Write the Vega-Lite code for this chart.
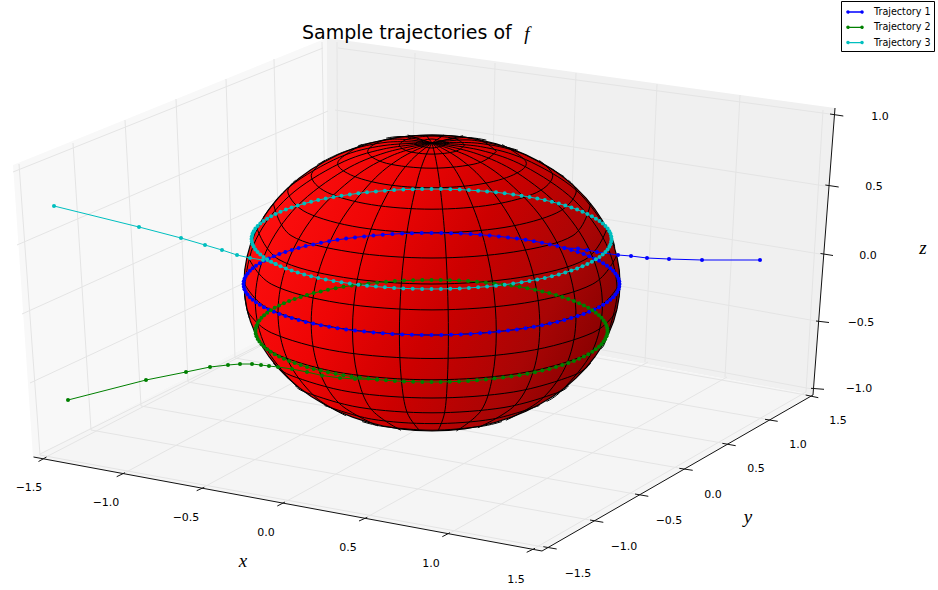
{"$schema":"https://vega.github.io/schema/vega-lite/v6.json","width":938,"height":590,"autosize":{"type":"fit","contains":"padding"},"padding":0,"background":"white","config":{"view":{"stroke":null}},
"datasets":{
"panes":[{"p":"left","x":13,"a":165,"b":165},{"p":"left","x":33,"a":157,"b":457},{"p":"left","x":327,"a":38,"b":305},{"p":"right","x":327,"a":38,"b":305},{"p":"right","x":813,"a":105,"b":395},{"p":"right","x":835,"a":108,"b":108},{"p":"floor","x":33,"a":457,"b":457},{"p":"floor","x":327,"a":305,"b":511.3},{"p":"floor","x":542,"a":345,"b":551},{"p":"floor","x":813,"a":395,"b":395}],
"gridlines":[{"x":19,"y":164,"x2":40,"y2":455},{"x":73,"y":143,"x2":91,"y2":430},{"x":125,"y":120,"x2":141,"y2":406},{"x":176,"y":99,"x2":188,"y2":382},{"x":226,"y":79,"x2":235,"y2":358},{"x":274,"y":59,"x2":281,"y2":334},{"x":322,"y":42,"x2":327,"y2":310},{"x":13,"y":172,"x2":323,"y2":48},{"x":17,"y":245,"x2":328,"y2":111},{"x":22,"y":314,"x2":330,"y2":175},{"x":30,"y":383,"x2":330,"y2":243},{"x":40,"y":454,"x2":330,"y2":310},{"x":337,"y":42,"x2":338,"y2":306},{"x":415,"y":53,"x2":410,"y2":320},{"x":495,"y":63,"x2":490,"y2":333},{"x":576,"y":73,"x2":567,"y2":347},{"x":657,"y":84,"x2":645,"y2":362},{"x":740,"y":95,"x2":725,"y2":377},{"x":823,"y":110,"x2":806,"y2":392},{"x":338,"y":48,"x2":830,"y2":114},{"x":335,"y":110,"x2":825,"y2":186},{"x":335,"y":175,"x2":820,"y2":254},{"x":335,"y":235,"x2":816,"y2":321},{"x":335,"y":300,"x2":812,"y2":389},{"x":46,"y":457,"x2":330,"y2":310},{"x":125,"y":472.7,"x2":410,"y2":320},{"x":204,"y":487,"x2":490,"y2":333},{"x":285,"y":502,"x2":567,"y2":347},{"x":367,"y":517,"x2":648,"y2":362},{"x":450,"y":533,"x2":727,"y2":377},{"x":535,"y":548,"x2":806,"y2":392},{"x":40,"y":455,"x2":543,"y2":547},{"x":91,"y":430,"x2":590,"y2":520},{"x":141,"y":406,"x2":635,"y2":494},{"x":188,"y":382,"x2":679,"y2":468},{"x":235,"y":358,"x2":722,"y2":443},{"x":281,"y":334,"x2":765,"y2":419},{"x":327,"y":310,"x2":806,"y2":395}],
"axes":[{"x":33.5,"y":457,"x2":542,"y2":551},{"x":542,"y":551,"x2":813,"y2":395},{"x":813,"y":395,"x2":835,"y2":108},{"x":38.5,"y":461.5,"x2":46.5,"y2":457},{"x":116.7,"y":476.7,"x2":125,"y2":472.7},{"x":196.7,"y":490.7,"x2":204.3,"y2":487.3},{"x":277.3,"y":506,"x2":285,"y2":502},{"x":359,"y":521,"x2":367.3,"y2":517.3},{"x":442.3,"y":536.7,"x2":450,"y2":532.7},{"x":526.7,"y":552.3,"x2":535,"y2":548.3},{"x":543.3,"y":546.7,"x2":556.7,"y2":549},{"x":590,"y":520,"x2":603.3,"y2":522.3},{"x":635,"y":494,"x2":648.3,"y2":496.3},{"x":679.3,"y":468.3,"x2":692.7,"y2":470.3},{"x":722.3,"y":443.3,"x2":735.7,"y2":445.7},{"x":765,"y":419.3,"x2":777.7,"y2":421.3},{"x":805.7,"y":395,"x2":818.3,"y2":397.7},{"x":811,"y":388.3,"x2":824,"y2":389.3},{"x":816,"y":321,"x2":829,"y2":322.5},{"x":820.5,"y":253.5,"x2":833,"y2":255.5},{"x":825.3,"y":185,"x2":838.7,"y2":187},{"x":830,"y":114,"x2":843.3,"y2":116}],
"ticklabels":[{"t":"−1.5","x":29,"y":488},{"t":"−1.0","x":106,"y":503},{"t":"−0.5","x":186,"y":518},{"t":"0.0","x":266,"y":533},{"t":"0.5","x":348,"y":548},{"t":"1.0","x":431,"y":564},{"t":"1.5","x":516,"y":580},{"t":"−1.5","x":578,"y":574},{"t":"−1.0","x":624,"y":547},{"t":"−0.5","x":669,"y":521},{"t":"0.0","x":713,"y":495},{"t":"0.5","x":756,"y":469},{"t":"1.0","x":798,"y":445},{"t":"1.5","x":838,"y":421},{"t":"−1.0","x":859,"y":389},{"t":"−0.5","x":861,"y":323},{"t":"0.0","x":868,"y":256},{"t":"0.5","x":874,"y":187},{"t":"1.0","x":880,"y":117}],
"axislabels":[{"t":"x","x":243,"y":561},{"t":"y","x":748,"y":517},{"t":"z","x":923,"y":248},{"t":"f","x":527,"y":34}],
"titletext":[{"t":"Sample trajectories of","x":302,"y":33}],
"sphere":[{"x":244,"a":283,"b":283},{"x":244.7,"a":270.1,"b":295.9},{"x":246.9,"a":257.3,"b":308.7},{"x":250.4,"a":244.7,"b":321.3},{"x":255.3,"a":232.4,"b":333.6},{"x":261.6,"a":220.5,"b":345.5},{"x":269.2,"a":209,"b":357},{"x":278,"a":198.1,"b":367.9},{"x":288,"a":187.9,"b":378.1},{"x":299.1,"a":178.3,"b":387.7},{"x":311.2,"a":169.6,"b":396.4},{"x":324.2,"a":161.8,"b":404.2},{"x":338,"a":154.8,"b":411.2},{"x":352.5,"a":148.9,"b":417.1},{"x":367.7,"a":143.9,"b":422.1},{"x":383.3,"a":140,"b":426},{"x":399.4,"a":137.2,"b":428.8},{"x":415.6,"a":135.6,"b":430.4},{"x":432,"a":135,"b":431},{"x":448.4,"a":135.6,"b":430.4},{"x":464.6,"a":137.2,"b":428.8},{"x":480.7,"a":140,"b":426},{"x":496.3,"a":143.9,"b":422.1},{"x":511.5,"a":148.9,"b":417.1},{"x":526,"a":154.8,"b":411.2},{"x":539.8,"a":161.8,"b":404.2},{"x":552.8,"a":169.6,"b":396.4},{"x":564.9,"a":178.3,"b":387.7},{"x":576,"a":187.9,"b":378.1},{"x":586,"a":198.1,"b":367.9},{"x":594.8,"a":209,"b":357},{"x":602.4,"a":220.5,"b":345.5},{"x":608.7,"a":232.4,"b":333.6},{"x":613.6,"a":244.7,"b":321.3},{"x":617.1,"a":257.3,"b":308.7},{"x":619.3,"a":270.1,"b":295.9},{"x":620,"a":283,"b":283}],
"wire":[
{"g":1,"x":620,"y":283},{"g":1,"x":594.8,"y":309},{"g":1,"x":526,"y":328},{"g":1,"x":432,"y":335},{"g":1,"x":338,"y":328},{"g":1,"x":269.2,"y":309},{"g":1,"x":244,"y":283},
{"g":2,"x":616.7,"y":255.2},{"g":2,"x":592.3,"y":284.3},{"g":2,"x":524.6,"y":303},{"g":2,"x":432,"y":309.9},{"g":2,"x":339.4,"y":303},{"g":2,"x":271.7,"y":284.3},{"g":2,"x":247.3,"y":255.2},
{"g":3,"x":607,"y":228.3},{"g":3,"x":585,"y":259.6},{"g":3,"x":520.4,"y":277.4},{"g":3,"x":432,"y":284},{"g":3,"x":343.6,"y":277.4},{"g":3,"x":279,"y":259.6},{"g":3,"x":257,"y":228.3},
{"g":4,"x":590.7,"y":203},{"g":4,"x":573,"y":235.5},{"g":4,"x":513.4,"y":252},{"g":4,"x":432,"y":258},{"g":4,"x":350.6,"y":252},{"g":4,"x":291,"y":235.5},{"g":4,"x":273.3,"y":203},
{"g":5,"x":568.3,"y":180.2},{"g":5,"x":576,"y":193},{"g":5,"x":556.7,"y":212.9},{"g":5,"x":504,"y":227.5},{"g":5,"x":432,"y":232.8},{"g":5,"x":360,"y":227.5},{"g":5,"x":307.3,"y":212.9},{"g":5,"x":288,"y":193},{"g":5,"x":295.7,"y":180.2},
{"g":6,"x":539.4,"y":160.5},{"g":6,"x":552.8,"y":175.8},{"g":6,"x":536.6,"y":192.5},{"g":6,"x":492.4,"y":204.7},{"g":6,"x":432,"y":209.2},{"g":6,"x":371.6,"y":204.7},{"g":6,"x":327.4,"y":192.5},{"g":6,"x":311.2,"y":175.8},{"g":6,"x":324.6,"y":160.5},
{"g":7,"x":502,"y":144.5},{"g":7,"x":526,"y":161.8},{"g":7,"x":513.4,"y":174.8},{"g":7,"x":479,"y":184.3},{"g":7,"x":432,"y":187.8},{"g":7,"x":385,"y":184.3},{"g":7,"x":350.6,"y":174.8},{"g":7,"x":338,"y":161.8},{"g":7,"x":362,"y":144.5},
{"g":8,"x":496.3,"y":151.4},{"g":8,"x":477.5,"y":163.3},{"g":8,"x":432,"y":168.2},{"g":8,"x":386.5,"y":163.3},{"g":8,"x":367.7,"y":151.4},{"g":8,"x":386.5,"y":139.5},{"g":8,"x":432,"y":135},{"g":8,"x":477.5,"y":139.5},{"g":8,"x":496.3,"y":151.4},
{"g":9,"x":464.6,"y":145.1},{"g":9,"x":455,"y":151.5},{"g":9,"x":432,"y":154.1},{"g":9,"x":409,"y":151.5},{"g":9,"x":399.4,"y":145.1},{"g":9,"x":409,"y":138.7},{"g":9,"x":432,"y":136.1},{"g":9,"x":455,"y":138.7},{"g":9,"x":464.6,"y":145.1},
{"g":10,"x":448.4,"y":143.5},{"g":10,"x":432,"y":148},{"g":10,"x":415.6,"y":143.5},{"g":10,"x":432,"y":139},{"g":10,"x":448.4,"y":143.5},
{"g":11,"x":616.7,"y":310.8},{"g":11,"x":592.3,"y":332.9},{"g":11,"x":524.6,"y":351.6},{"g":11,"x":432,"y":358.5},{"g":11,"x":339.4,"y":351.6},{"g":11,"x":271.7,"y":332.9},{"g":11,"x":247.3,"y":310.8},
{"g":12,"x":607,"y":337.7},{"g":12,"x":585,"y":355.4},{"g":12,"x":520.4,"y":373.2},{"g":12,"x":432,"y":379.8},{"g":12,"x":343.6,"y":373.2},{"g":12,"x":279,"y":355.4},{"g":12,"x":257,"y":337.7},
{"g":13,"x":590.7,"y":363},{"g":13,"x":573,"y":375.5},{"g":13,"x":513.4,"y":392},{"g":13,"x":432,"y":398},{"g":13,"x":350.6,"y":392},{"g":13,"x":291,"y":375.5},{"g":13,"x":273.3,"y":363},
{"g":14,"x":568.3,"y":385.8},{"g":14,"x":556.7,"y":392.9},{"g":14,"x":504,"y":407.5},{"g":14,"x":432,"y":412.8},{"g":14,"x":360,"y":407.5},{"g":14,"x":307.3,"y":392.9},{"g":14,"x":295.7,"y":385.8},
{"g":15,"x":539.4,"y":405.5},{"g":15,"x":492.4,"y":419.1},{"g":15,"x":432,"y":423.6},{"g":15,"x":371.6,"y":419.1},{"g":15,"x":324.6,"y":405.5},
{"g":16,"x":502,"y":421.5},{"g":16,"x":479,"y":426.7},{"g":16,"x":432,"y":430.2},{"g":16,"x":385,"y":426.7},{"g":16,"x":362,"y":421.5},
{"g":20,"x":437.9,"y":431},{"g":20,"x":444.6,"y":412.6},{"g":20,"x":447.4,"y":379.6},{"g":20,"x":448.4,"y":334.8},{"g":20,"x":447.4,"y":283.8},{"g":20,"x":444.6,"y":232.6},{"g":20,"x":440.2,"y":187.7},{"g":20,"x":436.2,"y":161.2},{"g":20,"x":432,"y":143},
{"g":21,"x":420.1,"y":431},{"g":21,"x":407,"y":412.2},{"g":21,"x":401.3,"y":379.1},{"g":21,"x":399.4,"y":334.2},{"g":21,"x":401.3,"y":283.3},{"g":21,"x":407,"y":232.2},{"g":21,"x":415.7,"y":187.4},{"g":21,"x":423.5,"y":161.1},{"g":21,"x":432,"y":143},
{"g":22,"x":456.4,"y":431},{"g":22,"x":481.2,"y":410.4},{"g":22,"x":492.4,"y":376.9},{"g":22,"x":496.3,"y":331.9},{"g":22,"x":492.4,"y":281.1},{"g":22,"x":481.2,"y":230.4},{"g":22,"x":464.1,"y":186.2},{"g":22,"x":448.7,"y":160.5},{"g":22,"x":432,"y":143},
{"g":23,"x":400.9,"y":430.3},{"g":23,"x":371.1,"y":409.1},{"g":23,"x":357.3,"y":375.2},{"g":23,"x":352.5,"y":330.1},{"g":23,"x":357.3,"y":279.4},{"g":23,"x":371.1,"y":229.1},{"g":23,"x":392.3,"y":185.4},{"g":23,"x":411.4,"y":160},{"g":23,"x":432,"y":143},
{"g":24,"x":477.9,"y":427.8},{"g":24,"x":514.6,"y":405.6},{"g":24,"x":533.4,"y":370.9},{"g":24,"x":539.8,"y":325.6},{"g":24,"x":533.4,"y":275.1},{"g":24,"x":514.6,"y":225.6},{"g":24,"x":485.9,"y":183.1},{"g":24,"x":459.9,"y":158.9},{"g":24,"x":432,"y":143},
{"g":25,"x":377.7,"y":425.9},{"g":25,"x":339.4,"y":403.5},{"g":25,"x":318.4,"y":368.4},{"g":25,"x":311.2,"y":322.8},{"g":25,"x":318.4,"y":272.6},{"g":25,"x":339.4,"y":223.5},{"g":25,"x":371.6,"y":181.7},{"g":25,"x":400.7,"y":158.1},{"g":25,"x":432,"y":143},
{"g":26,"x":505.9,"y":420.3},{"g":26,"x":542.3,"y":398.6},{"g":26,"x":567.4,"y":362.3},{"g":26,"x":576,"y":316.4},{"g":26,"x":567.4,"y":266.5},{"g":26,"x":542.3,"y":218.6},{"g":26,"x":504,"y":178.5},{"g":26,"x":469.3,"y":156.5},{"g":26,"x":432,"y":143},
{"g":27,"x":346.1,"y":415.8},{"g":27,"x":314.1,"y":395.8},{"g":27,"x":287.3,"y":359},{"g":27,"x":278,"y":312.8},{"g":27,"x":287.3,"y":263.2},{"g":27,"x":314.1,"y":215.8},{"g":27,"x":355,"y":176.7},{"g":27,"x":392.1,"y":155.5},{"g":27,"x":432,"y":143},
{"g":28,"x":546.6,"y":401.4},{"g":28,"x":562.5,"y":389.8},{"g":28,"x":592.1,"y":351.6},{"g":28,"x":602.4,"y":305},{"g":28,"x":592.1,"y":255.8},{"g":28,"x":562.5,"y":209.8},{"g":28,"x":517.2,"y":172.8},{"g":28,"x":476.1,"y":153.5},{"g":28,"x":432,"y":143},
{"g":29,"x":296.7,"y":386.6},{"g":29,"x":265.9,"y":347.6},{"g":29,"x":255.3,"y":300.8},{"g":29,"x":265.9,"y":251.8},{"g":29,"x":296.7,"y":206.6},{"g":29,"x":343.6,"y":170.7},{"g":29,"x":386.2,"y":152.4},{"g":29,"x":432,"y":143},
{"g":30,"x":600.7,"y":348.8},{"g":30,"x":606,"y":339.4},{"g":30,"x":617.1,"y":292},{"g":30,"x":606,"y":243.6},{"g":30,"x":573.8,"y":199.9},{"g":30,"x":524.6,"y":166.3},{"g":30,"x":480,"y":150.1},{"g":30,"x":432,"y":143},
{"g":31,"x":249.3,"y":318.2},{"g":31,"x":244.7,"y":287.5},{"g":31,"x":256,"y":239.4},{"g":31,"x":288.6,"y":196.5},{"g":31,"x":338.4,"y":164.1},{"g":31,"x":383.5,"y":149},{"g":31,"x":432,"y":143},
{"g":32,"x":614.7,"y":247.8},{"g":32,"x":608,"y":230.8},{"g":32,"x":575.4,"y":189.5},{"g":32,"x":525.6,"y":159.5},{"g":32,"x":480.5,"y":146.6},{"g":32,"x":432,"y":143},
{"g":33,"x":263.3,"y":217.2},{"g":33,"x":290.2,"y":186.1},{"g":33,"x":339.4,"y":157.3},{"g":33,"x":384,"y":145.5},{"g":33,"x":432,"y":143},
{"g":34,"x":564.2,"y":176.7},{"g":34,"x":520.4,"y":152.9},{"g":34,"x":477.8,"y":143.2},{"g":34,"x":432,"y":143},
{"g":35,"x":317.4,"y":164.6},{"g":35,"x":346.8,"y":150.8},{"g":35,"x":387.9,"y":142.1},{"g":35,"x":432,"y":143},
{"g":36,"x":517.9,"y":150.2},{"g":36,"x":471.9,"y":140.1},{"g":36,"x":432,"y":143},
{"g":37,"x":358.1,"y":145.7},{"g":37,"x":394.7,"y":139.1},{"g":37,"x":432,"y":143},
{"g":38,"x":486.3,"y":140.1},{"g":38,"x":463.3,"y":137.5},{"g":38,"x":432,"y":143},
{"g":39,"x":386.1,"y":138.2},{"g":39,"x":404.1,"y":136.7},{"g":39,"x":432,"y":143},
{"g":40,"x":463.1,"y":135.7},{"g":40,"x":432,"y":143},
{"g":41,"x":407.6,"y":135},{"g":41,"x":432,"y":143},
{"g":42,"x":443.9,"y":135},{"g":42,"x":432,"y":143},
{"g":43,"x":426.1,"y":135},{"g":43,"x":432,"y":143}],
"traj":[
{"s":1,"x":760,"y":260},{"s":1,"x":702,"y":260},{"s":1,"x":669,"y":259},{"s":1,"x":647,"y":258},{"s":1,"x":631,"y":256},{"s":1,"x":618,"y":255},{"s":1,"x":597,"y":252},{"s":1,"x":587,"y":250},{"s":1,"x":578,"y":248.5},
{"s":1,"x":564.4,"y":247.9},{"s":1,"x":557.3,"y":246.1},{"s":1,"x":549.8,"y":244.4},{"s":1,"x":542,"y":242.7},{"s":1,"x":533.9,"y":241.2},{"s":1,"x":525.5,"y":239.8},{"s":1,"x":516.9,"y":238.6},{"s":1,"x":508,"y":237.4},{"s":1,"x":498.9,"y":236.4},{"s":1,"x":489.6,"y":235.5},{"s":1,"x":480.2,"y":234.7},{"s":1,"x":470.6,"y":234.1},{"s":1,"x":460.9,"y":233.6},{"s":1,"x":451.1,"y":233.3},{"s":1,"x":441.3,"y":233.1},{"s":1,"x":431.5,"y":233},
{"s":1,"x":421.7,"y":233.1},{"s":1,"x":411.9,"y":233.3},{"s":1,"x":402.1,"y":233.6},{"s":1,"x":392.4,"y":234.1},{"s":1,"x":382.8,"y":234.7},{"s":1,"x":373.4,"y":235.5},{"s":1,"x":364.1,"y":236.4},{"s":1,"x":355,"y":237.4},{"s":1,"x":346.1,"y":238.6},{"s":1,"x":337.5,"y":239.8},{"s":1,"x":329.1,"y":241.2},{"s":1,"x":321,"y":242.7},{"s":1,"x":313.2,"y":244.4},{"s":1,"x":305.7,"y":246.1},{"s":1,"x":298.6,"y":247.9},{"s":1,"x":291.8,"y":249.9},{"s":1,"x":285.4,"y":251.9},{"s":1,"x":279.4,"y":254},{"s":1,"x":273.8,"y":256.2},{"s":1,"x":268.7,"y":258.5},{"s":1,"x":264,"y":260.8},{"s":1,"x":259.8,"y":263.3},{"s":1,"x":256,"y":265.7},{"s":1,"x":252.7,"y":268.2},{"s":1,"x":249.9,"y":270.8},{"s":1,"x":247.6,"y":273.4},{"s":1,"x":245.8,"y":276},{"s":1,"x":244.5,"y":278.7},{"s":1,"x":243.8,"y":281.3},{"s":1,"x":243.5,"y":284},
{"s":1,"x":243.8,"y":286.7},{"s":1,"x":244.5,"y":289.3},{"s":1,"x":245.8,"y":292},{"s":1,"x":247.6,"y":294.6},{"s":1,"x":249.9,"y":297.2},{"s":1,"x":252.7,"y":299.8},{"s":1,"x":256,"y":302.3},{"s":1,"x":259.8,"y":304.7},{"s":1,"x":264,"y":307.2},{"s":1,"x":268.7,"y":309.5},{"s":1,"x":273.8,"y":311.8},{"s":1,"x":279.4,"y":314},{"s":1,"x":285.4,"y":316.1},{"s":1,"x":291.8,"y":318.1},{"s":1,"x":298.6,"y":320.1},{"s":1,"x":305.7,"y":321.9},{"s":1,"x":313.2,"y":323.6},{"s":1,"x":321,"y":325.3},{"s":1,"x":329.1,"y":326.8},{"s":1,"x":337.5,"y":328.2},{"s":1,"x":346.1,"y":329.4},{"s":1,"x":355,"y":330.6},{"s":1,"x":364.1,"y":331.6},{"s":1,"x":373.4,"y":332.5},{"s":1,"x":382.8,"y":333.3},{"s":1,"x":392.4,"y":333.9},{"s":1,"x":402.1,"y":334.4},{"s":1,"x":411.9,"y":334.7},{"s":1,"x":421.7,"y":334.9},{"s":1,"x":431.5,"y":335},
{"s":1,"x":441.3,"y":334.9},{"s":1,"x":451.1,"y":334.7},{"s":1,"x":460.9,"y":334.4},{"s":1,"x":470.6,"y":333.9},{"s":1,"x":480.2,"y":333.3},{"s":1,"x":489.6,"y":332.5},{"s":1,"x":498.9,"y":331.6},{"s":1,"x":508,"y":330.6},{"s":1,"x":516.9,"y":329.4},{"s":1,"x":525.5,"y":328.2},{"s":1,"x":533.9,"y":326.8},{"s":1,"x":542,"y":325.3},{"s":1,"x":549.8,"y":323.6},{"s":1,"x":557.3,"y":321.9},{"s":1,"x":564.4,"y":320.1},{"s":1,"x":571.2,"y":318.1},{"s":1,"x":577.6,"y":316.1},{"s":1,"x":583.6,"y":314},{"s":1,"x":589.2,"y":311.8},{"s":1,"x":594.3,"y":309.5},{"s":1,"x":599,"y":307.2},{"s":1,"x":603.2,"y":304.7},{"s":1,"x":607,"y":302.3},{"s":1,"x":610.3,"y":299.8},{"s":1,"x":613.1,"y":297.2},{"s":1,"x":615.4,"y":294.6},{"s":1,"x":617.2,"y":292},{"s":1,"x":618.5,"y":289.3},{"s":1,"x":619.2,"y":286.7},{"s":1,"x":619.5,"y":284},
{"s":1,"x":619.2,"y":281.3},{"s":1,"x":618.5,"y":278.7},{"s":1,"x":617.2,"y":276},{"s":1,"x":615.4,"y":273.4},{"s":1,"x":613.1,"y":270.8},{"s":1,"x":610.3,"y":268.2},{"s":1,"x":607,"y":265.7},{"s":1,"x":603.2,"y":263.3},{"s":1,"x":599,"y":260.8},{"s":1,"x":594.3,"y":258.5},{"s":1,"x":589.2,"y":256.2},{"s":1,"x":583.6,"y":254},{"s":1,"x":577.6,"y":251.9},{"s":1,"x":571.2,"y":249.9},{"s":1,"x":564.4,"y":247.9},
{"s":2,"x":68,"y":400},{"s":2,"x":146,"y":380},{"s":2,"x":186,"y":372},{"s":2,"x":210,"y":367},{"s":2,"x":228,"y":365},{"s":2,"x":240,"y":364},{"s":2,"x":252,"y":364},{"s":2,"x":261,"y":365},{"s":2,"x":269,"y":366},{"s":2,"x":278,"y":367},{"s":2,"x":292,"y":369},{"s":2,"x":307,"y":372},{"s":2,"x":322,"y":375.5},{"s":2,"x":340,"y":378},{"s":2,"x":355,"y":379},
{"s":2,"x":377.1,"y":379.5},{"s":2,"x":386,"y":380.3},{"s":2,"x":394.9,"y":380.9},{"s":2,"x":404,"y":381.4},{"s":2,"x":413.1,"y":381.7},{"s":2,"x":422.3,"y":381.9},{"s":2,"x":431.5,"y":382},
{"s":2,"x":440.7,"y":381.9},{"s":2,"x":449.9,"y":381.7},{"s":2,"x":459,"y":381.4},{"s":2,"x":468.1,"y":380.9},{"s":2,"x":477,"y":380.3},{"s":2,"x":485.9,"y":379.5},{"s":2,"x":494.6,"y":378.6},{"s":2,"x":503.1,"y":377.6},{"s":2,"x":511.4,"y":376.4},{"s":2,"x":519.5,"y":375.2},{"s":2,"x":527.4,"y":373.8},{"s":2,"x":535,"y":372.3},{"s":2,"x":542.3,"y":370.6},{"s":2,"x":549.3,"y":368.9},{"s":2,"x":556,"y":367.1},{"s":2,"x":562.3,"y":365.1},{"s":2,"x":568.3,"y":363.1},{"s":2,"x":573.9,"y":361},{"s":2,"x":579.1,"y":358.8},{"s":2,"x":583.9,"y":356.5},{"s":2,"x":588.3,"y":354.2},{"s":2,"x":592.3,"y":351.7},{"s":2,"x":595.8,"y":349.3},{"s":2,"x":598.9,"y":346.8},{"s":2,"x":601.5,"y":344.2},{"s":2,"x":603.6,"y":341.6},{"s":2,"x":605.3,"y":339},{"s":2,"x":606.5,"y":336.3},{"s":2,"x":607.3,"y":333.7},{"s":2,"x":607.5,"y":331},
{"s":2,"x":607.3,"y":328.3},{"s":2,"x":606.5,"y":325.7},{"s":2,"x":605.3,"y":323},{"s":2,"x":603.6,"y":320.4},{"s":2,"x":601.5,"y":317.8},{"s":2,"x":598.9,"y":315.2},{"s":2,"x":595.8,"y":312.7},{"s":2,"x":592.3,"y":310.3},{"s":2,"x":588.3,"y":307.8},{"s":2,"x":583.9,"y":305.5},{"s":2,"x":579.1,"y":303.2},{"s":2,"x":573.9,"y":301},{"s":2,"x":568.3,"y":298.9},{"s":2,"x":562.3,"y":296.9},{"s":2,"x":556,"y":294.9},{"s":2,"x":549.3,"y":293.1},{"s":2,"x":542.3,"y":291.4},{"s":2,"x":535,"y":289.7},{"s":2,"x":527.4,"y":288.2},{"s":2,"x":519.5,"y":286.8},{"s":2,"x":511.4,"y":285.6},{"s":2,"x":503.1,"y":284.4},{"s":2,"x":494.6,"y":283.4},{"s":2,"x":485.9,"y":282.5},{"s":2,"x":477,"y":281.7},{"s":2,"x":468.1,"y":281.1},{"s":2,"x":459,"y":280.6},{"s":2,"x":449.9,"y":280.3},{"s":2,"x":440.7,"y":280.1},{"s":2,"x":431.5,"y":280},
{"s":2,"x":422.3,"y":280.1},{"s":2,"x":413.1,"y":280.3},{"s":2,"x":404,"y":280.6},{"s":2,"x":394.9,"y":281.1},{"s":2,"x":386,"y":281.7},{"s":2,"x":377.1,"y":282.5},{"s":2,"x":368.4,"y":283.4},{"s":2,"x":359.9,"y":284.4},{"s":2,"x":351.6,"y":285.6},{"s":2,"x":343.5,"y":286.8},{"s":2,"x":335.6,"y":288.2},{"s":2,"x":328,"y":289.7},{"s":2,"x":320.7,"y":291.4},{"s":2,"x":313.7,"y":293.1},{"s":2,"x":307,"y":294.9},{"s":2,"x":300.7,"y":296.9},{"s":2,"x":294.7,"y":298.9},{"s":2,"x":289.1,"y":301},{"s":2,"x":283.9,"y":303.2},{"s":2,"x":279.1,"y":305.5},{"s":2,"x":274.7,"y":307.8},{"s":2,"x":270.7,"y":310.3},{"s":2,"x":267.2,"y":312.7},{"s":2,"x":264.1,"y":315.2},{"s":2,"x":261.5,"y":317.8},{"s":2,"x":259.4,"y":320.4},{"s":2,"x":257.7,"y":323},{"s":2,"x":256.5,"y":325.7},{"s":2,"x":255.7,"y":328.3},{"s":2,"x":255.5,"y":331},
{"s":2,"x":255.7,"y":333.7},{"s":2,"x":256.5,"y":336.3},{"s":2,"x":257.7,"y":339},{"s":2,"x":259.4,"y":341.6},{"s":2,"x":261.5,"y":344.2},{"s":2,"x":264.1,"y":346.8},{"s":2,"x":267.2,"y":349.3},{"s":2,"x":270.7,"y":351.7},{"s":2,"x":274.7,"y":354.2},{"s":2,"x":279.1,"y":356.5},{"s":2,"x":283.9,"y":358.8},{"s":2,"x":289.1,"y":361},{"s":2,"x":294.7,"y":363.1},{"s":2,"x":300.7,"y":365.1},{"s":2,"x":307,"y":367.1},{"s":2,"x":313.7,"y":368.9},{"s":2,"x":320.7,"y":370.6},{"s":2,"x":328,"y":372.3},{"s":2,"x":335.6,"y":373.8},{"s":2,"x":343.5,"y":375.2},{"s":2,"x":351.6,"y":376.4},{"s":2,"x":359.9,"y":377.6},{"s":2,"x":368.4,"y":378.6},{"s":2,"x":377.1,"y":379.5},
{"s":3,"x":54,"y":206},{"s":3,"x":139,"y":227},{"s":3,"x":181,"y":238},{"s":3,"x":205,"y":245},{"s":3,"x":222,"y":250},{"s":3,"x":237,"y":255},{"s":3,"x":250,"y":258},{"s":3,"x":263,"y":260},
{"s":3,"x":275.6,"y":264},{"s":3,"x":280.5,"y":266.2},{"s":3,"x":285.9,"y":268.4},{"s":3,"x":291.6,"y":270.5},{"s":3,"x":297.7,"y":272.5},{"s":3,"x":304.2,"y":274.4},{"s":3,"x":311.1,"y":276.2},{"s":3,"x":318.2,"y":277.9},{"s":3,"x":325.7,"y":279.5},{"s":3,"x":333.5,"y":280.9},{"s":3,"x":341.5,"y":282.3},{"s":3,"x":349.8,"y":283.5},{"s":3,"x":358.3,"y":284.7},{"s":3,"x":367,"y":285.7},{"s":3,"x":375.9,"y":286.6},{"s":3,"x":384.9,"y":287.3},{"s":3,"x":394.1,"y":287.9},{"s":3,"x":403.3,"y":288.4},{"s":3,"x":412.7,"y":288.7},{"s":3,"x":422.1,"y":288.9},{"s":3,"x":431.5,"y":289},
{"s":3,"x":440.9,"y":288.9},{"s":3,"x":450.3,"y":288.7},{"s":3,"x":459.7,"y":288.4},{"s":3,"x":468.9,"y":287.9},{"s":3,"x":478.1,"y":287.3},{"s":3,"x":487.1,"y":286.6},{"s":3,"x":496,"y":285.7},{"s":3,"x":504.7,"y":284.7},{"s":3,"x":513.2,"y":283.5},{"s":3,"x":521.5,"y":282.3},{"s":3,"x":529.5,"y":280.9},{"s":3,"x":537.3,"y":279.5},{"s":3,"x":544.8,"y":277.9},{"s":3,"x":551.9,"y":276.2},{"s":3,"x":558.8,"y":274.4},{"s":3,"x":565.3,"y":272.5},{"s":3,"x":571.4,"y":270.5},{"s":3,"x":577.1,"y":268.4},{"s":3,"x":582.5,"y":266.2},{"s":3,"x":587.4,"y":264},{"s":3,"x":591.9,"y":261.7},{"s":3,"x":595.9,"y":259.3},{"s":3,"x":599.5,"y":256.9},{"s":3,"x":602.7,"y":254.5},{"s":3,"x":605.4,"y":251.9},{"s":3,"x":607.6,"y":249.4},{"s":3,"x":609.3,"y":246.8},{"s":3,"x":610.5,"y":244.2},{"s":3,"x":611.2,"y":241.6},{"s":3,"x":611.5,"y":239},
{"s":3,"x":611.2,"y":236.4},{"s":3,"x":610.5,"y":233.8},{"s":3,"x":609.3,"y":231.2},{"s":3,"x":607.6,"y":228.6},{"s":3,"x":605.4,"y":226.1},{"s":3,"x":602.7,"y":223.5},{"s":3,"x":599.5,"y":221.1},{"s":3,"x":595.9,"y":218.7},{"s":3,"x":591.9,"y":216.3},{"s":3,"x":587.4,"y":214},{"s":3,"x":582.5,"y":211.8},{"s":3,"x":577.1,"y":209.6},{"s":3,"x":571.4,"y":207.5},{"s":3,"x":565.3,"y":205.5},{"s":3,"x":558.8,"y":203.6},{"s":3,"x":551.9,"y":201.8},{"s":3,"x":544.8,"y":200.1},{"s":3,"x":537.3,"y":198.5},{"s":3,"x":529.5,"y":197.1},{"s":3,"x":521.5,"y":195.7},{"s":3,"x":513.2,"y":194.5},{"s":3,"x":504.7,"y":193.3},{"s":3,"x":496,"y":192.3},{"s":3,"x":487.1,"y":191.4},{"s":3,"x":478.1,"y":190.7},{"s":3,"x":468.9,"y":190.1},{"s":3,"x":459.7,"y":189.6},{"s":3,"x":450.3,"y":189.3},{"s":3,"x":440.9,"y":189.1},{"s":3,"x":431.5,"y":189},
{"s":3,"x":422.1,"y":189.1},{"s":3,"x":412.7,"y":189.3},{"s":3,"x":403.3,"y":189.6},{"s":3,"x":394.1,"y":190.1},{"s":3,"x":384.9,"y":190.7},{"s":3,"x":375.9,"y":191.4},{"s":3,"x":367,"y":192.3},{"s":3,"x":358.3,"y":193.3},{"s":3,"x":349.8,"y":194.5},{"s":3,"x":341.5,"y":195.7},{"s":3,"x":333.5,"y":197.1},{"s":3,"x":325.7,"y":198.5},{"s":3,"x":318.2,"y":200.1},{"s":3,"x":311.1,"y":201.8},{"s":3,"x":304.2,"y":203.6},{"s":3,"x":297.7,"y":205.5},{"s":3,"x":291.6,"y":207.5},{"s":3,"x":285.9,"y":209.6},{"s":3,"x":280.5,"y":211.8},{"s":3,"x":275.6,"y":214},{"s":3,"x":271.1,"y":216.3},{"s":3,"x":267.1,"y":218.7},{"s":3,"x":263.5,"y":221.1},{"s":3,"x":260.3,"y":223.5},{"s":3,"x":257.6,"y":226.1},{"s":3,"x":255.4,"y":228.6},{"s":3,"x":253.7,"y":231.2},{"s":3,"x":252.5,"y":233.8},{"s":3,"x":251.8,"y":236.4},{"s":3,"x":251.5,"y":239},
{"s":3,"x":251.8,"y":241.6},{"s":3,"x":252.5,"y":244.2},{"s":3,"x":253.7,"y":246.8},{"s":3,"x":255.4,"y":249.4},{"s":3,"x":257.6,"y":251.9},{"s":3,"x":260.3,"y":254.5},{"s":3,"x":263.5,"y":256.9},{"s":3,"x":267.1,"y":259.3},{"s":3,"x":271.1,"y":261.7},{"s":3,"x":275.6,"y":264}]
},
"encoding":{"x":{"type":"quantitative","scale":{"domain":[0,938],"nice":false,"zero":false},"axis":null},"y":{"type":"quantitative","scale":{"domain":[590,0],"nice":false,"zero":false},"axis":null}},
"layer":[
{"data":{"name":"panes"},"transform":[{"filter":"datum.p=='left'"}],"mark":{"type":"area","color":"#f8f8f8","order":false},"encoding":{"x":{"field":"x"},"y":{"field":"a"},"y2":{"field":"b"}}},
{"data":{"name":"panes"},"transform":[{"filter":"datum.p=='right'"}],"mark":{"type":"area","color":"#f0f0f0","order":false},"encoding":{"x":{"field":"x"},"y":{"field":"a"},"y2":{"field":"b"}}},
{"data":{"name":"panes"},"transform":[{"filter":"datum.p=='floor'"}],"mark":{"type":"area","color":"#f5f5f5","order":false},"encoding":{"x":{"field":"x"},"y":{"field":"a"},"y2":{"field":"b"}}},
{"data":{"name":"gridlines"},"mark":{"type":"rule","color":"#e4e4e4","strokeWidth":1},"encoding":{"x":{"field":"x"},"y":{"field":"y"},"x2":{"field":"x2"},"y2":{"field":"y2"}}},
{"data":{"name":"axes"},"mark":{"type":"rule","color":"#111111","strokeWidth":1},"encoding":{"x":{"field":"x"},"y":{"field":"y"},"x2":{"field":"x2"},"y2":{"field":"y2"}}},
{"data":{"name":"ticklabels"},"mark":{"type":"text","font":"DejaVu Sans","fontSize":11,"color":"#000000","align":"center","baseline":"middle"},"encoding":{"x":{"field":"x"},"y":{"field":"y"},"text":{"field":"t"}}},
{"data":{"name":"axislabels"},"mark":{"type":"text","font":"Liberation Serif","fontStyle":"italic","fontSize":19,"color":"#000000","align":"center","baseline":"middle"},"encoding":{"x":{"field":"x"},"y":{"field":"y"},"text":{"field":"t"}}},
{"data":{"name":"titletext"},"mark":{"type":"text","font":"DejaVu Sans","fontSize":19,"color":"#000000","align":"left","baseline":"middle"},"encoding":{"x":{"field":"x"},"y":{"field":"y"},"text":{"field":"t"}}},
{"data":{"name":"sphere"},"mark":{"type":"area","order":false,"color":{"gradient":"linear","x1":0,"y1":0.3,"x2":1,"y2":0.7,"stops":[{"offset":0,"color":"#ff1010"},{"offset":0.3,"color":"#ee0505"},{"offset":0.55,"color":"#cc0000"},{"offset":0.8,"color":"#a80505"},{"offset":1,"color":"#820000"}]}},"encoding":{"x":{"field":"x"},"y":{"field":"a"},"y2":{"field":"b"}}},
{"data":{"name":"sphere"},"mark":{"type":"line","order":false,"color":"#000000","strokeWidth":1.2},"encoding":{"x":{"field":"x"},"y":{"field":"a"}}},
{"data":{"name":"sphere"},"mark":{"type":"line","order":false,"color":"#000000","strokeWidth":1.2},"encoding":{"x":{"field":"x"},"y":{"field":"b"}}},
{"data":{"name":"wire"},"mark":{"type":"line","order":false,"interpolate":"cardinal","color":"#000000","strokeWidth":1},"encoding":{"x":{"field":"x"},"y":{"field":"y"},"detail":{"field":"g"}}},
{"data":{"name":"traj"},"mark":{"type":"line","order":false,"strokeWidth":1},"encoding":{"x":{"field":"x"},"y":{"field":"y"},"color":{"field":"s","type":"nominal","scale":{"domain":[1,2,3],"range":["#0000ff","#008000","#00bfbf"]},"legend":{"orient":"none","legendX":841,"legendY":1,"title":null,"strokeColor":"#000000","fillColor":"#ffffff","padding":3,"symbolOffset":3,"symbolType":"M-1,0L1,0M-0.84,0A0.16,0.16 0 1 1 -1.16,0A0.16,0.16 0 1 1 -0.84,0ZM1.16,0A0.16,0.16 0 1 1 0.84,0A0.16,0.16 0 1 1 1.16,0Z","symbolSize":196,"symbolStrokeWidth":1.3,"labelFont":"DejaVu Sans","labelFontSize":9.6,"labelColor":"#000000","labelOffset":11,"labelExpr":"'Trajectory ' + datum.label","rowPadding":2.3}}}},
{"data":{"name":"traj"},"mark":{"type":"point","filled":true,"opacity":1,"size":16},"encoding":{"x":{"field":"x"},"y":{"field":"y"},"color":{"field":"s","type":"nominal","legend":null}}}
]}
